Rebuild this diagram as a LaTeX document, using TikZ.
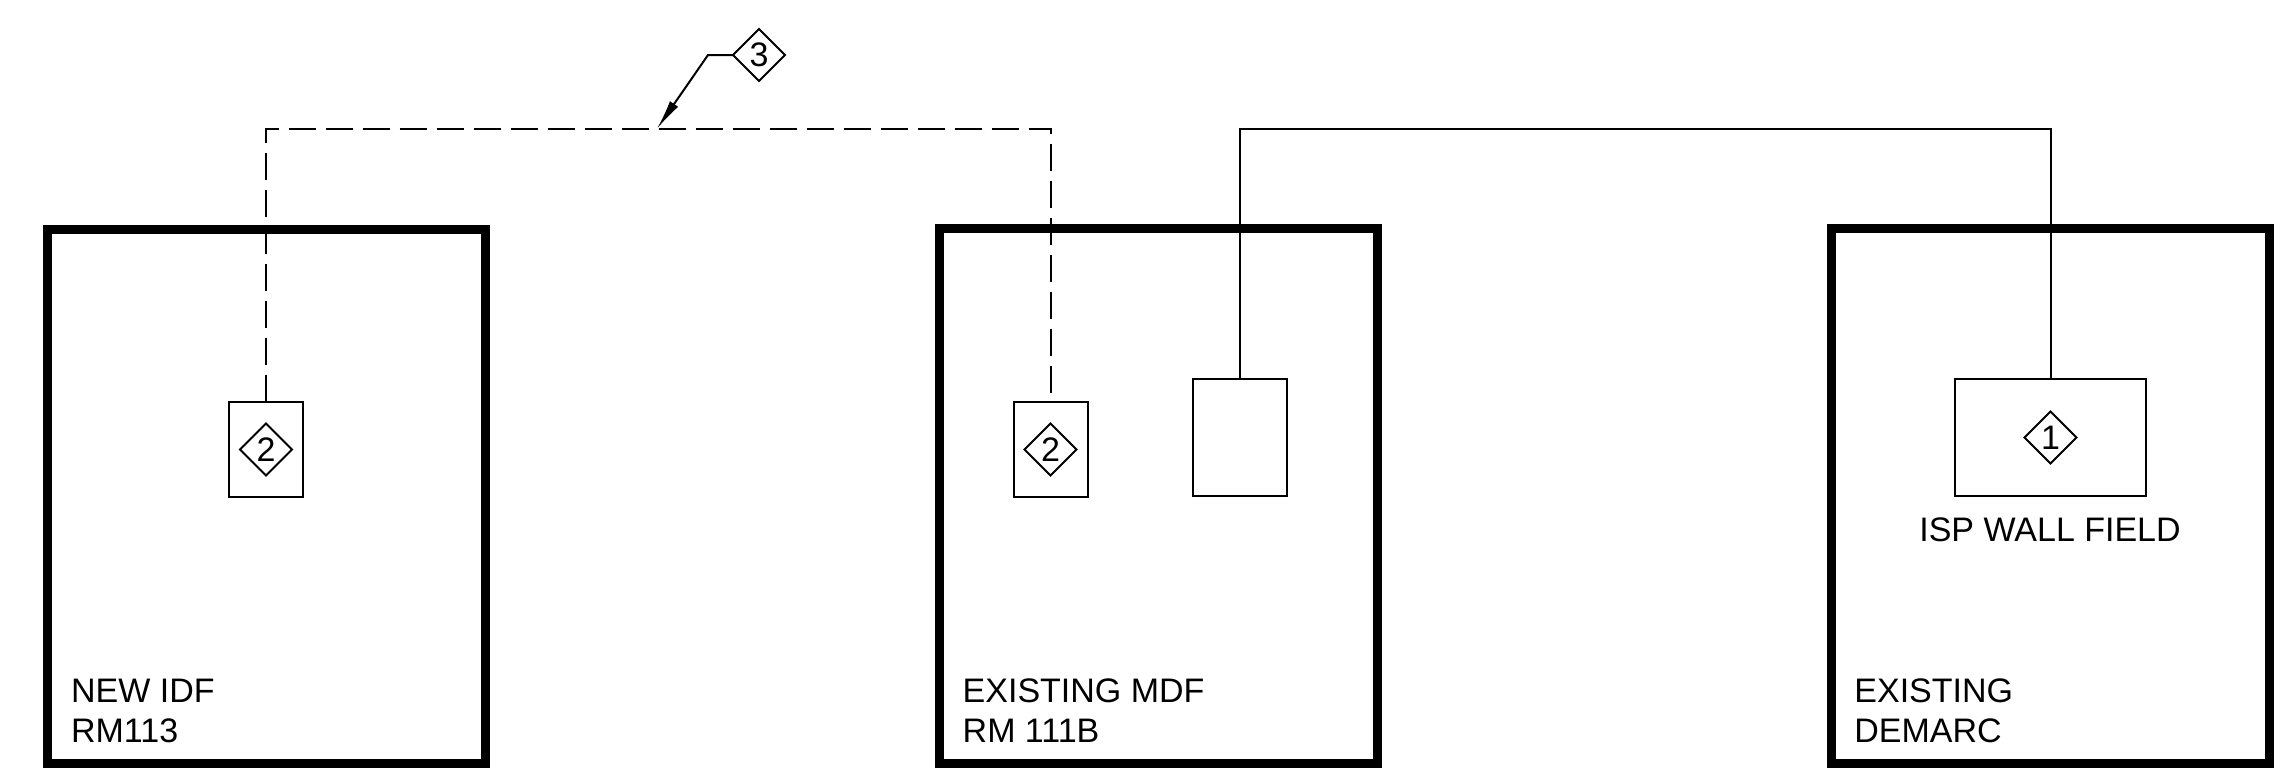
\documentclass[tikz,border=0pt]{standalone}
\usepackage{fontspec}
\setmainfont{Liberation Sans}
\usetikzlibrary{shapes.geometric,arrows.meta}
\begin{document}
\begin{tikzpicture}[x=0.5pt,y=-0.5pt,
 room/.style={draw,line width=4.5pt,inner sep=0,outer sep=0,minimum width=219pt,minimum height=267.25pt},
 equip/.style={draw,line width=1pt,inner sep=0,outer sep=0},
 tag/.style={draw,diamond,line width=1pt,inner sep=0,outer sep=0,minimum width=26pt,minimum height=26pt,font=\fontsize{17}{20}\selectfont},
 lbl/.style={anchor=base west,align=left,inner sep=0,font=\fontsize{17}{20}\selectfont},
 wire/.style={line width=1pt},
 fiber/.style={line width=1pt,dash pattern=on 13.5pt off 5pt},
]
\useasboundingbox (0,0) rectangle (2283,777);
% rooms
\node[room] (idf) at (266.5,496.25) {};
\node[room] (mdf) at (1158.5,495.75) {};
\node[room] (demarc) at (2050.5,495.75) {};
% equipment
\node[equip,minimum width=37pt,minimum height=47.5pt] (ea) at (266,449.5) {};
\node[tag] (ta) at (ea) {2};
\node[equip,minimum width=37pt,minimum height=47.5pt] (eb) at (1050.5,449.5) {};
\node[tag] (tb) at (eb) {2};
\node[equip,minimum width=47pt,minimum height=58.5pt] (ec) at (1240,437.5) {};
\node[equip,minimum width=95.5pt,minimum height=58.5pt] (ed) at (2050.5,437.5) {};
\node[tag] (td) at (ed) {1};
\node[anchor=base,inner sep=0,font=\fontsize{17}{20}\selectfont] (isp) at (2050,541) {ISP WALL FIELD};
% labels (base = last line)
\node[lbl] (l1) at (70.7,742.7) {NEW IDF\\RM113};
\node[lbl] (l2) at (962.3,742.7) {EXISTING MDF\\RM 111B};
\node[lbl] (l3) at (1854,742.7) {EXISTING\\DEMARC};
% connectors
\coordinate (route) at (0,128.7);
\draw[fiber] (ea.north) -- (ea.north |- route) -- (eb.north |- route) -- (eb.north);
\draw[wire] (ec.north) |- (ed.north |- route) -- (ed.north);
% callout 3
\node[tag] (t3) at (759,55) {3};
\coordinate (bend) at (708,55);
\coordinate (hit) at (657,128.7);
\draw[wire,-{Latex[length=15pt,width=5pt]}] (t3.west) -- (bend) -- (hit);
\end{tikzpicture}
\end{document}
